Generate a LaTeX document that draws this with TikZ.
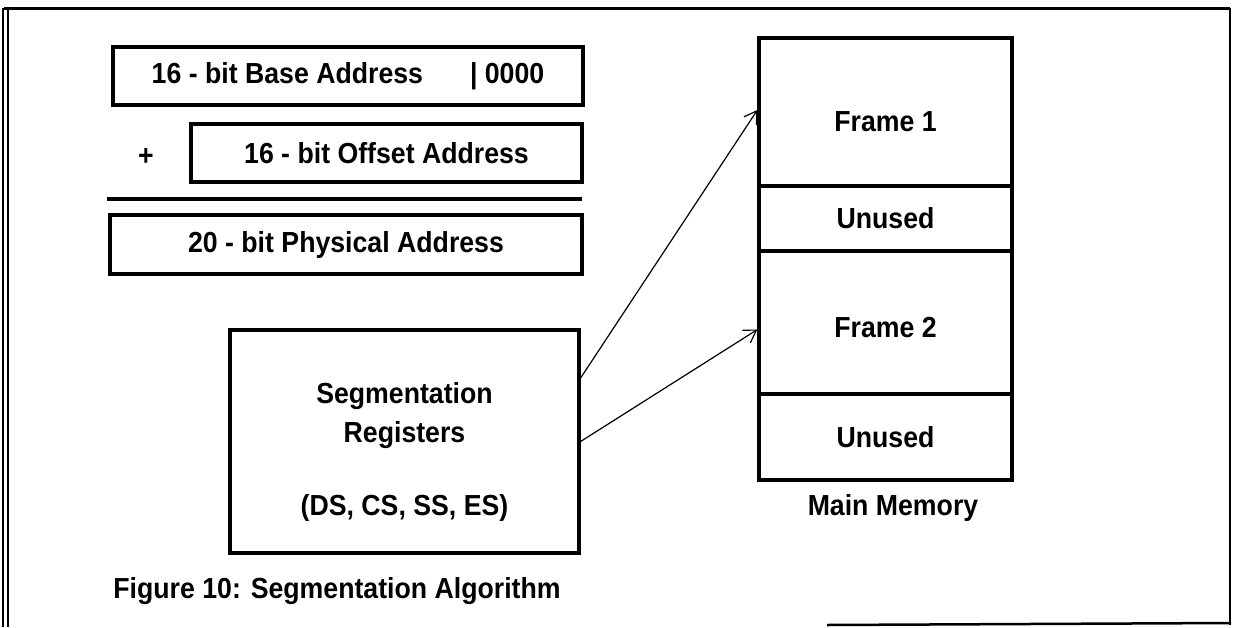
\documentclass[tikz,border=0pt]{standalone}
\usepackage{fontspec}
\setmainfont{Liberation Sans}[FakeStretch=0.92]
\usetikzlibrary{arrows.meta}
\begin{document}
\begin{tikzpicture}[x=1pt,y=-1pt,
  every node/.style={font=\fontsize{29}{39}\selectfont\bfseries, inner sep=0pt},
  box/.style={draw, line width=3.2pt, rectangle},
  cell/.style={draw, line width=3.2pt, rectangle, minimum width=253pt},
  lbl/.style={},
  conn/.style={line width=1.2pt, -{Straight Barb[length=12pt,width=15pt,line width=1.2pt]}},
  frameline/.style={line width=1.5pt}]
\useasboundingbox (0,0) rectangle (1235,627);
% outer frame
\draw[line width=3pt] (4,8) -- (1230,8);
\draw[frameline] (3,8) -- (3,627);
\draw[frameline] (8,8) -- (8,627);
\draw[line width=2pt] (1230,8) -- (1230,625);
\draw[line width=2.5pt] (827,625) -- (1231,623);
% address boxes
\node[box, minimum width=470pt, minimum height=58pt] (base) at (348,76) {16 - bit Base Address\hspace{47pt}| 0000\hspace{22pt}};
\node (plus) at (146,157) {+};
\node[box, minimum width=391pt, minimum height=58pt] (offset) at (386.5,153) {16 - bit Offset Address};
\coordinate (ruleL) at (107,199);
\coordinate (ruleR) at (582,199);
\draw[line width=3.2pt] (ruleL) -- (ruleR);
\node[box, minimum width=472pt, minimum height=59pt] (phys) at (346,244.5) {20 - bit Physical Address};
% segmentation registers
\node[box, minimum width=349pt, minimum height=223pt] (seg) at (404.5,441.5) {};
\node[align=center] (segtext) at (404.5,452) {Segmentation\\Registers\\[34pt](DS, CS, SS, ES)};
\node (caption) at (337,591) {Figure 10: Segmentation Algorithm};
% main memory
\node[cell, minimum height=148pt] (f1) at (885.5,112) {};
\node[cell, minimum height=65pt] (u1) at (885.5,218.5) {};
\node[cell, minimum height=143pt] (f2) at (885.5,322.5) {};
\node[cell, minimum height=86pt] (u2) at (885.5,437) {};
\node[lbl] (f1t) at ([yshift=-10pt]f1.center) {Frame 1};
\node[lbl] (u1t) at (u1.center) {Unused};
\node[lbl] (f2t) at ([yshift=-5pt]f2.center) {Frame 2};
\node[lbl] (u2t) at (u2.center) {Unused};
\node (mm) at (893,508) {Main Memory};
% connectors
\draw[conn] ([yshift=63.5pt]seg.east) -- ([yshift=2pt]f1.west);
\draw[conn] (seg.east) -- ([yshift=-7pt]f2.west);
\end{tikzpicture}
\end{document}
